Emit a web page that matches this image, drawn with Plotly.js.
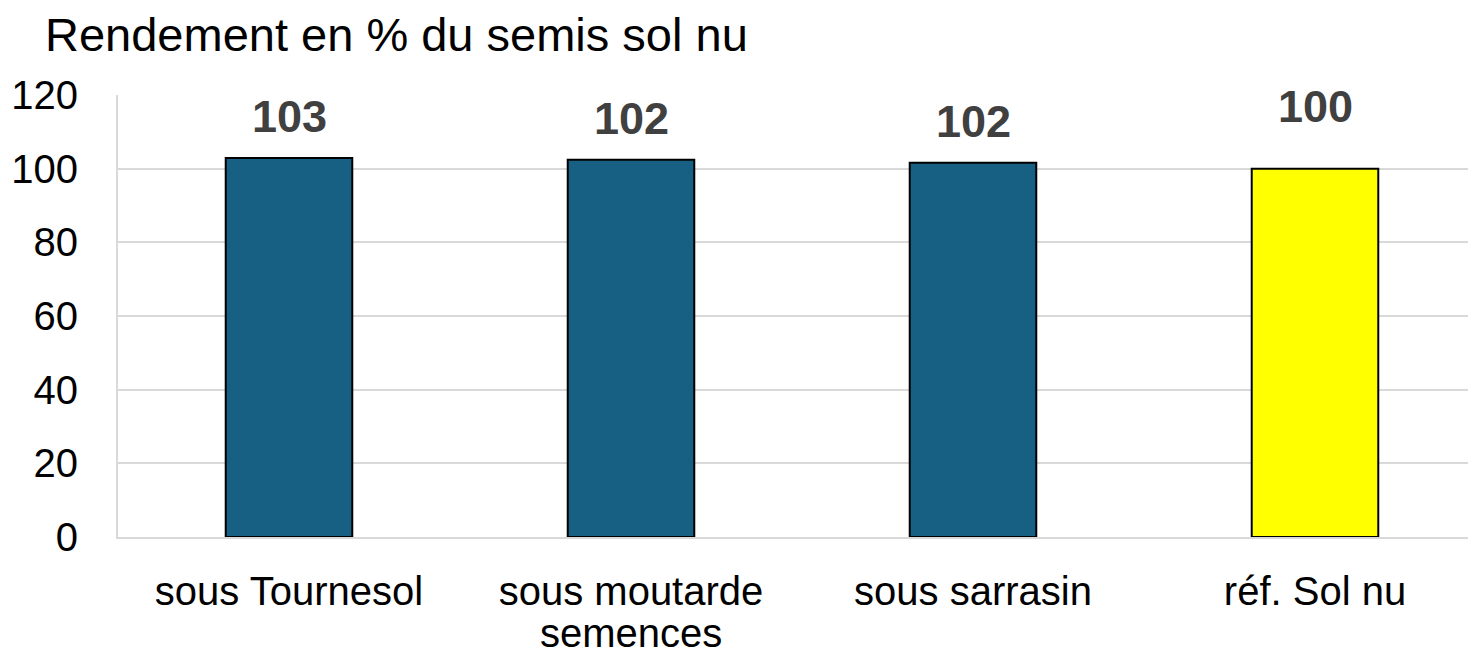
<!DOCTYPE html>
<html>
<head>
<meta charset="utf-8">
<script src="https://cdn.plot.ly/plotly-3.0.1.min.js"></script>
<style>
html,body{margin:0;padding:0;overflow:hidden;background:#fff;}
#chart{width:1500px;height:656px;}
</style>
</head>
<body>
<div id="chart"></div>
<script>
const categories = ["sous Tournesol", "sous moutarde\nsemences", "sous sarrasin", "réf. Sol nu"];
const values = [102.9, 102.4, 101.6, 100.0];
const labels = ["103", "102", "102", "100"];
const barColors = ["#186083", "#186083", "#186083", "#ffff00"];
const labelShift = [14, 14, 14, 35];

const font = "Liberation Sans, Arial, sans-serif";

const trace = {
  type: "bar",
  x: categories,
  y: values,
  marker: {color: barColors, line: {color: "#000000", width: 2}},
  hoverinfo: "none"
};

const annotations = categories.map((c, i) => ({
  x: c, y: values[i], xref: "x", yref: "y",
  text: "<b>" + labels[i] + "</b>",
  showarrow: false, yanchor: "bottom", yshift: labelShift[i],
  font: {family: font, size: 45, color: "#404040"}
}));

// second lines of wrapped category labels, drawn with tighter line spacing
categories.forEach(c => {
  const parts = c.split("\n");
  parts.slice(1).forEach((p, k) => {
    annotations.push({
      x: c, y: 0, xref: "x", yref: "paper",
      text: p, showarrow: false, yanchor: "middle",
      yshift: -(52 + 44 * (k + 1)),
      font: {family: font, size: 40, color: "#000000"}
    });
  });
});

const layout = {
  width: 1500, height: 656,
  margin: {l: 118, r: 14, t: 95, b: 119},
  paper_bgcolor: "#ffffff", plot_bgcolor: "#ffffff",
  bargap: 0.63,
  showlegend: false,
  title: {text: "Rendement en % du semis sol nu", x: 45 / 1500, xref: "container", xanchor: "left",
          y: 1, yref: "container", yanchor: "top", pad: {t: 18},
          font: {family: font, size: 47, color: "#000000"}},
  xaxis: {
    showgrid: false, showline: true, linecolor: "#d9d9d9", linewidth: 2,
    ticks: "", ticklabelstandoff: 18,
    tickvals: categories,
    ticktext: categories.map(c => c.split("\n")[0]),
    tickfont: {family: font, size: 40, color: "#000000"}
  },
  yaxis: {
    range: [0, 120], dtick: 20, tick0: 0,
    showgrid: true, gridcolor: "#d9d9d9", gridwidth: 2,
    showline: true, linecolor: "#d9d9d9", linewidth: 2,
    zeroline: false, ticks: "", ticklabelstandoff: 30,
    tickfont: {family: font, size: 40, color: "#000000"}
  },
  annotations: annotations
};

Plotly.newPlot("chart", [trace], layout, {staticPlot: true, displayModeBar: false});
</script>
</body>
</html>
